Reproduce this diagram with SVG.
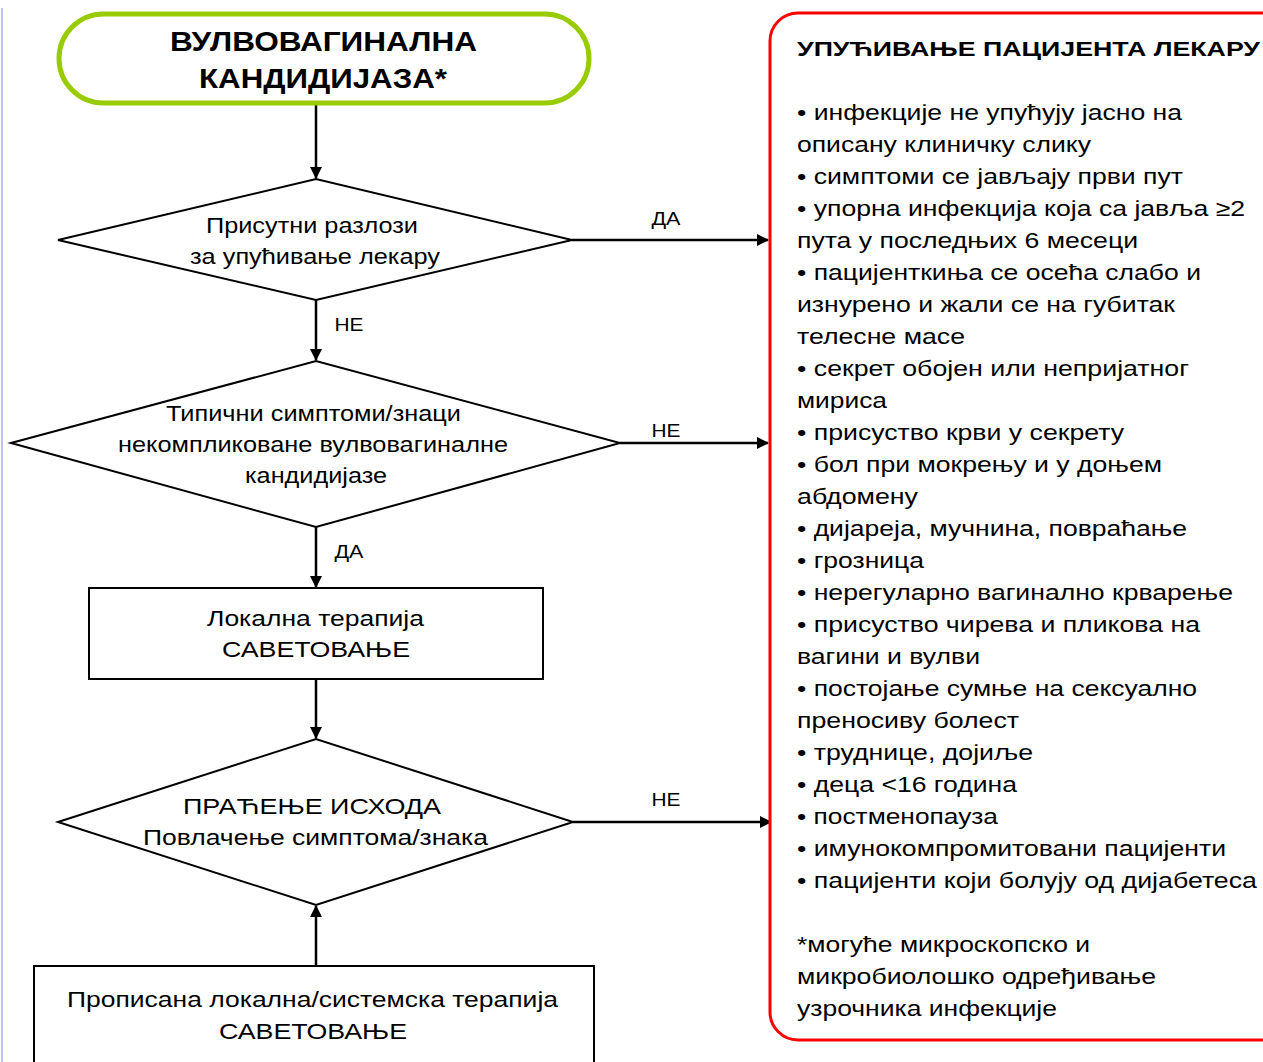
<svg xmlns="http://www.w3.org/2000/svg" width="1263" height="1062" viewBox="0 0 1263 1062">
<style>
text{font-family:"Liberation Sans",Arial,sans-serif;fill:#000}
.t{font-size:21.5px;text-anchor:middle}
.b{font-size:28px;font-weight:bold;text-anchor:middle}
.l{font-size:19px;text-anchor:middle}
.r{font-size:22px}
.h{font-size:21px;font-weight:bold}
.n{fill:#fff;stroke:#000;stroke-width:2}
.c{stroke:#000;stroke-width:2.5;fill:none}
</style>
<defs>
<marker id="a" markerWidth="12" markerHeight="12" refX="11" refY="6" orient="auto" markerUnits="userSpaceOnUse">
<path d="M0,0 L12,6 L0,12 z" fill="#000"/>
</marker>
</defs>
<rect width="1263" height="1062" fill="#fff"/>
<line x1="2" y1="8" x2="2" y2="1062" stroke="#aaaaee" stroke-width="1.5"/>
<g id="connectors">
<line class="c" x1="316" y1="104" x2="316" y2="178" marker-end="url(#a)"/>
<line class="c" x1="316" y1="300" x2="316" y2="360" marker-end="url(#a)"/>
<line class="c" x1="316" y1="527" x2="316" y2="587" marker-end="url(#a)"/>
<line class="c" x1="316" y1="679" x2="316" y2="738" marker-end="url(#a)"/>
<line class="c" x1="316" y1="966" x2="316" y2="906" marker-end="url(#a)"/>
<line class="c" x1="572" y1="240" x2="768" y2="240" marker-end="url(#a)"/>
<line class="c" x1="620" y1="443" x2="768" y2="443" marker-end="url(#a)"/>
<line class="c" x1="573" y1="822" x2="771" y2="822" marker-end="url(#a)"/>
<text class="l" x="666" y="225" textLength="29" lengthAdjust="spacingAndGlyphs">ДА</text>
<text class="l" x="349" y="331" textLength="29" lengthAdjust="spacingAndGlyphs">НЕ</text>
<text class="l" x="666" y="437" textLength="29" lengthAdjust="spacingAndGlyphs">НЕ</text>
<text class="l" x="349" y="558" textLength="29" lengthAdjust="spacingAndGlyphs">ДА</text>
<text class="l" x="666" y="806" textLength="29" lengthAdjust="spacingAndGlyphs">НЕ</text>
</g>
<g id="start">
<rect x="59" y="14" width="530" height="89" rx="44.5" fill="#fff" stroke="#99cc00" stroke-width="5"/>
<text class="b" x="323.5" y="51" textLength="307" lengthAdjust="spacingAndGlyphs">ВУЛВОВАГИНАЛНА</text>
<text class="b" x="323" y="88" textLength="248" lengthAdjust="spacingAndGlyphs">КАНДИДИЈАЗА*</text>
</g>
<g id="d1">
<polygon class="n" points="58,240 316,179 572,240 316,300"/>
<text class="t" x="312" y="233" textLength="212" lengthAdjust="spacingAndGlyphs">Присутни разлози</text>
<text class="t" x="315" y="264" textLength="250" lengthAdjust="spacingAndGlyphs">за упућивање лекару</text>
</g>
<g id="d2">
<polygon class="n" points="11,443 316,361 620,443 316,527"/>
<text class="t" x="313.5" y="421" textLength="295" lengthAdjust="spacingAndGlyphs">Типични симптоми/знаци</text>
<text class="t" x="313" y="452" textLength="390" lengthAdjust="spacingAndGlyphs">некомпликоване вулвовагиналне</text>
<text class="t" x="316" y="483" textLength="142" lengthAdjust="spacingAndGlyphs">кандидијазе</text>
</g>
<g id="box1">
<rect class="n" x="89" y="588" width="454" height="91"/>
<text class="t" x="315.5" y="626" textLength="217" lengthAdjust="spacingAndGlyphs">Локална терапија</text>
<text class="t" x="316" y="657" textLength="188" lengthAdjust="spacingAndGlyphs">САВЕТОВАЊЕ</text>
</g>
<g id="d3">
<polygon class="n" points="58,822 316,739 573,822 316,905"/>
<text class="t" x="312" y="814" textLength="258" lengthAdjust="spacingAndGlyphs">ПРАЋЕЊЕ ИСХОДА</text>
<text class="t" x="315.5" y="845" textLength="345" lengthAdjust="spacingAndGlyphs">Повлачење симптома/знака</text>
</g>
<g id="box2">
<rect class="n" x="34" y="966" width="560" height="110"/>
<text class="t" x="312.5" y="1007" textLength="491" lengthAdjust="spacingAndGlyphs">Прописана локална/системска терапија</text>
<text class="t" x="313" y="1039" textLength="188" lengthAdjust="spacingAndGlyphs">САВЕТОВАЊЕ</text>
</g>
<g id="referral">
<rect x="770" y="13" width="540" height="1027" rx="28" fill="#fff" stroke="#ff0000" stroke-width="3"/>
<text class="h" x="797" y="56" textLength="463" lengthAdjust="spacingAndGlyphs">УПУЋИВАЊЕ ПАЦИЈЕНТА ЛЕКАРУ</text>
<g class="r">
<text x="797" y="120" textLength="385" lengthAdjust="spacingAndGlyphs">• инфекције не упућују јасно на</text>
<text x="797" y="152" textLength="294" lengthAdjust="spacingAndGlyphs">описану клиничку слику</text>
<text x="797" y="184" textLength="386" lengthAdjust="spacingAndGlyphs">• симптоми се јављају први пут</text>
<text x="797" y="216" textLength="448" lengthAdjust="spacingAndGlyphs">• упорна инфекција која са јавља ≥2</text>
<text x="797" y="248" textLength="341" lengthAdjust="spacingAndGlyphs">пута у последњих 6 месеци</text>
<text x="797" y="280" textLength="404" lengthAdjust="spacingAndGlyphs">• пацијенткиња се осећа слабо и</text>
<text x="797" y="312" textLength="378" lengthAdjust="spacingAndGlyphs">изнурено и жали се на губитак</text>
<text x="797" y="344" textLength="168" lengthAdjust="spacingAndGlyphs">телесне масе</text>
<text x="797" y="376" textLength="392" lengthAdjust="spacingAndGlyphs">• секрет обојен или непријатног</text>
<text x="797" y="408" textLength="90" lengthAdjust="spacingAndGlyphs">мириса</text>
<text x="797" y="440" textLength="327" lengthAdjust="spacingAndGlyphs">• присуство крви у секрету</text>
<text x="797" y="472" textLength="365" lengthAdjust="spacingAndGlyphs">• бол при мокрењу и у доњем</text>
<text x="797" y="504" textLength="121" lengthAdjust="spacingAndGlyphs">абдомену</text>
<text x="797" y="536" textLength="390" lengthAdjust="spacingAndGlyphs">• дијареја, мучнина, повраћање</text>
<text x="797" y="568" textLength="127" lengthAdjust="spacingAndGlyphs">• грозница</text>
<text x="797" y="600" textLength="436" lengthAdjust="spacingAndGlyphs">• нерегуларно вагинално крварење</text>
<text x="797" y="632" textLength="403" lengthAdjust="spacingAndGlyphs">• присуство чирева и пликова на</text>
<text x="797" y="664" textLength="183" lengthAdjust="spacingAndGlyphs">вагини и вулви</text>
<text x="797" y="696" textLength="400" lengthAdjust="spacingAndGlyphs">• постојање сумње на сексуално</text>
<text x="797" y="728" textLength="222" lengthAdjust="spacingAndGlyphs">преносиву болест</text>
<text x="797" y="760" textLength="236" lengthAdjust="spacingAndGlyphs">• труднице, дојиље</text>
<text x="797" y="792" textLength="220" lengthAdjust="spacingAndGlyphs">• деца &lt;16 година</text>
<text x="797" y="824" textLength="201" lengthAdjust="spacingAndGlyphs">• постменопауза</text>
<text x="797" y="856" textLength="429" lengthAdjust="spacingAndGlyphs">• имунокомпромитовани пацијенти</text>
<text x="797" y="888" textLength="460" lengthAdjust="spacingAndGlyphs">• пацијенти који болују од дијабетеса</text>
<text x="797" y="952" textLength="293" lengthAdjust="spacingAndGlyphs">*могуће микроскопско и</text>
<text x="797" y="984" textLength="359" lengthAdjust="spacingAndGlyphs">микробиолошко одређивање</text>
<text x="797" y="1016" textLength="260" lengthAdjust="spacingAndGlyphs">узрочника инфекције</text>
</g>
</g>
</svg>
